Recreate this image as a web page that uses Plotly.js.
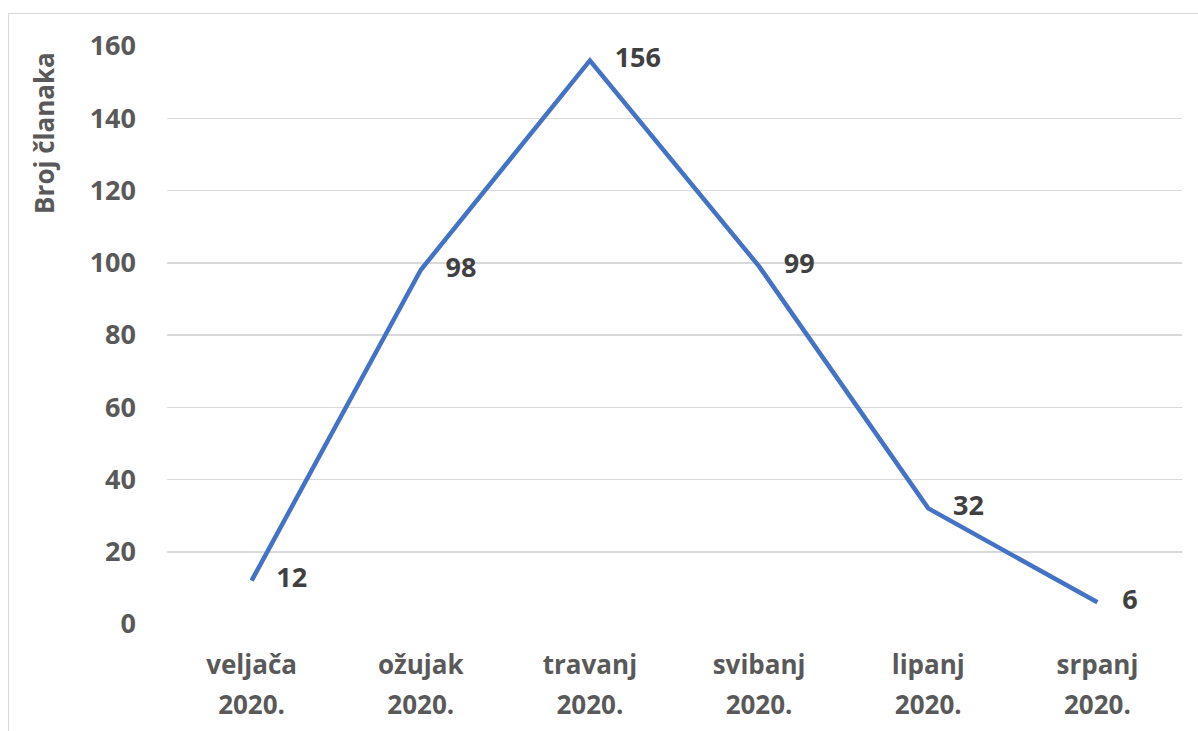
<!DOCTYPE html>
<html>
<head>
<meta charset="utf-8">
<script src="https://cdn.plot.ly/plotly-3.0.1.min.js"></script>
<style>
html,body{margin:0;padding:0;background:#fff;}
#chart{width:1198px;height:731px;position:absolute;left:0;top:0;}
#frame{position:absolute;left:8px;top:13px;width:1200px;height:800px;border:1px solid #D9D9D9;pointer-events:none;}
</style>
</head>
<body>
<div id="chart"></div>
<div id="frame"></div>
<script>
const months = ["veljača", "ožujak", "travanj", "svibanj", "lipanj", "srpanj"];
const years = ["2020.", "2020.", "2020.", "2020.", "2020.", "2020."];
const values = [12, 98, 156, 99, 32, 6];
const yTicks = [0, 20, 40, 60, 80, 100, 120, 140, 160];
const yTitle = "Broj članaka";

const idx = months.map((m, i) => i);
const FONT = "Open Sans, Noto Sans, sans-serif";

const trace = {
  x: idx,
  y: values,
  type: "scatter",
  mode: "lines+markers+text",
  text: values.map(String),
  textposition: "middle right",
  textfont: {family: FONT, size: 27, color: "#404040", weight: "bold"},
  line: {color: "#4472C4", width: 4.5},
  marker: {size: 38, opacity: 0, color: "#4472C4"},
  cliponaxis: false,
  hoverinfo: "skip",
  showlegend: false
};
const ghost = {
  x: idx, y: values, xaxis: "x2", type: "scatter", mode: "none",
  hoverinfo: "skip", showlegend: false
};

const layout = {
  width: 1198, height: 731,
  margin: {l: 167, r: 16, t: 46, b: 107},
  paper_bgcolor: "#fff", plot_bgcolor: "#fff",
  font: {family: FONT, color: "#595959"},
  xaxis: {
    range: [-0.5, 5.5], tickvals: idx, ticktext: months,
    showgrid: false, zeroline: false, showline: false, ticks: "",
    tickfont: {family: FONT, size: 26, color: "#595959", weight: "bold"},
    ticklabelstandoff: 23, fixedrange: true
  },
  xaxis2: {
    range: [-0.5, 5.5], tickvals: idx, ticktext: years, overlaying: "x", side: "bottom",
    anchor: "y", showgrid: false, zeroline: false, showline: false, ticks: "",
    tickfont: {family: FONT, size: 26, color: "#595959", weight: "bold"},
    ticklabelstandoff: 63, fixedrange: true
  },
  yaxis: {
    range: [0, 160], tickvals: yTicks, ticktext: yTicks.map(String),
    showgrid: true, gridcolor: "#D9D9D9", gridwidth: 1.5,
    zeroline: false, showline: false, ticks: "",
    tickfont: {family: FONT, size: 27, color: "#595959", weight: "bold"},
    ticklabelstandoff: 30,
    fixedrange: true
  },
  annotations: [{
    text: yTitle, textangle: -90, showarrow: false,
    xref: "paper", yref: "paper", x: -0.121, y: 0.85,
    xanchor: "center", yanchor: "middle",
    font: {family: FONT, size: 26, color: "#595959", weight: "bold"}
  }]
};

Plotly.newPlot("chart", [trace, ghost], layout, {displayModeBar: false, staticPlot: true});
</script>
</body>
</html>
